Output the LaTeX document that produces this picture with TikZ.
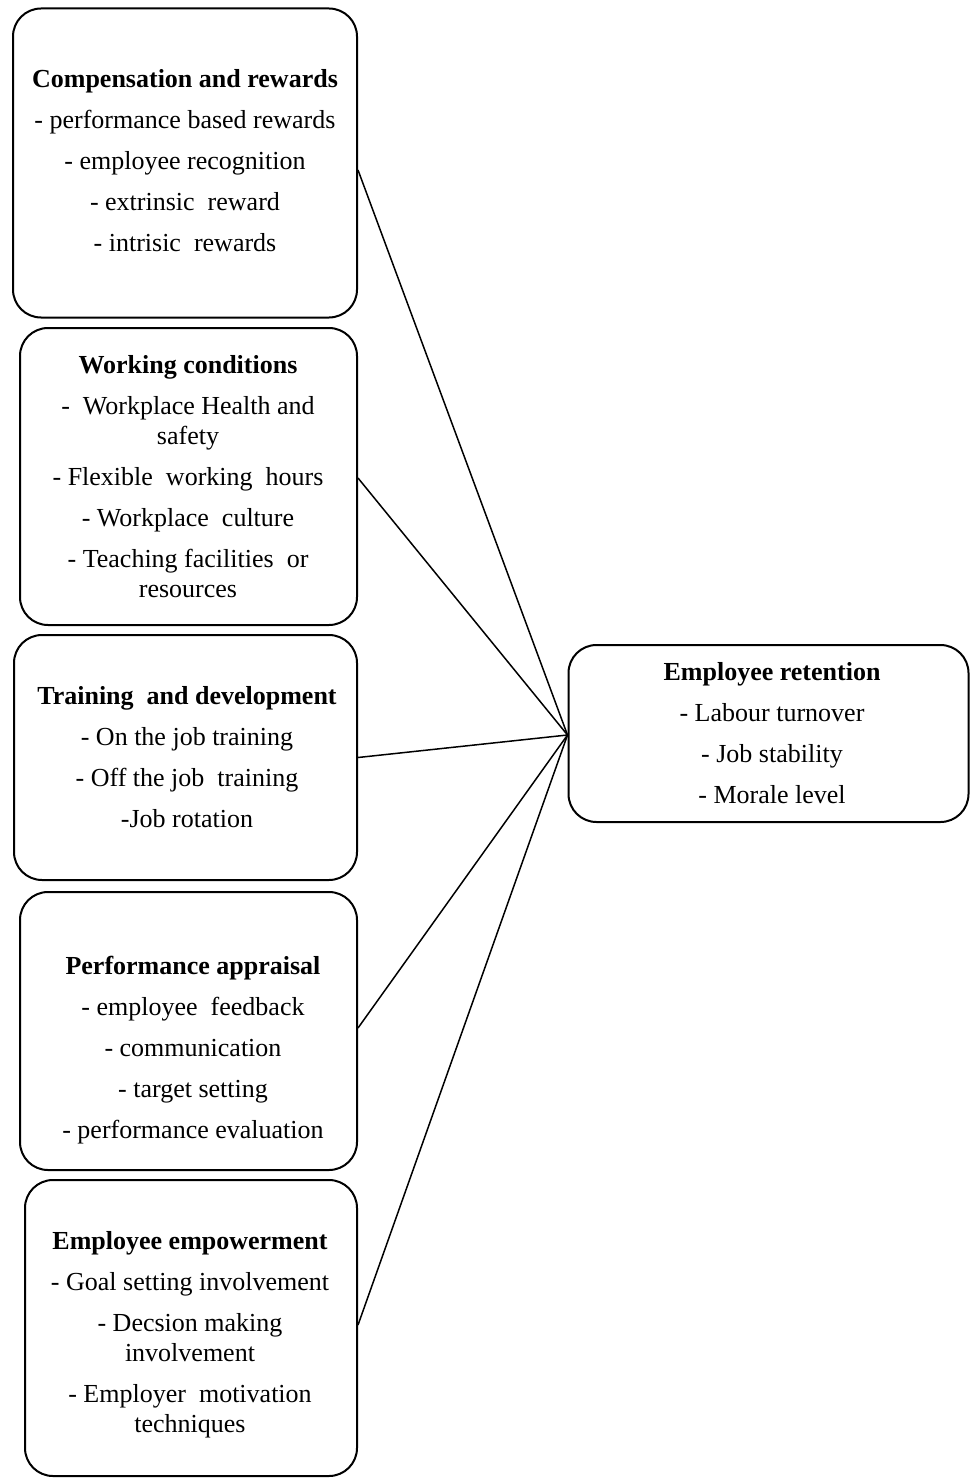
\documentclass[tikz,border=0pt]{standalone}
\usepackage{fontspec}
\setmainfont{Liberation Serif}
\begin{document}
\begin{tikzpicture}[x=1pt,y=-1pt,
  box/.style={draw, line width=2pt, rounded corners=28pt, inner sep=0pt},
  txt/.style={align=center, inner sep=0pt, font=\fontsize{26}{30}\selectfont},
  link/.style={line width=1.5pt}]
\useasboundingbox (0,0) rectangle (969,1479);
% boxes
\node[box, minimum width=344pt, minimum height=309pt] (b1) at (185,163) {};
\node[box, minimum width=337pt, minimum height=297pt] (b2) at (188.5,476.5) {};
\node[box, minimum width=343pt, minimum height=245pt] (b3) at (185.5,757.5) {};
\node[box, minimum width=337pt, minimum height=278pt] (b4) at (188.5,1031) {};
\node[box, minimum width=332pt, minimum height=296pt] (b5) at (191,1328) {};
\node[box, minimum width=400pt, minimum height=177pt] (b6) at (768.5,733.5) {};
% texts
\node[txt] (t1) at (185,160.5) {\textbf{Compensation and rewards}\\[11pt]
- performance based rewards\\[11pt]
- employee recognition\\[11pt]
- extrinsic\ \ reward\\[11pt]
- intrisic\ \ rewards};
\node[txt] (t2) at (188,476.5) {\textbf{Working conditions}\\[11pt]
-\ \ Workplace Health and\\
safety\\[11pt]
- Flexible\ \ working\ \ hours\\[11pt]
- Workplace\ \ culture\\[11pt]
- Teaching facilities\ \ or\\
resources};
\node[txt] (t3) at (187,757) {\textbf{Training\ \ and development}\\[11pt]
- On the job training\\[11pt]
- Off the job\ \ training\\[11pt]
-Job rotation};
\node[txt] (t4) at (193,1050.5) {\textbf{Performance appraisal}\\[11pt]
- employee\ \ feedback\\[11pt]
- communication\\[11pt]
- target setting\\[11pt]
- performance evaluation};
\node[txt] (t5) at (190,1334.5) {\textbf{Employee empowerment}\\[11pt]
- Goal setting involvement\\[11pt]
- Decsion making\\
involvement\\[11pt]
- Employer\ \ motivation\\
techniques};
\node[txt] (t6) at (772,733.5) {\textbf{Employee retention}\\[11pt]
- Labour turnover\\[11pt]
- Job stability\\[11pt]
- Morale level};
% connectors
\coordinate (c) at ([yshift=-1.5pt]b6.west);
\draw[link] ([yshift=-7pt]b1.east) -- (c);
\draw[link] ([yshift=-1.5pt]b2.east) -- (c);
\draw[link] (b3.east) -- (c);
\draw[link] ([yshift=3pt]b4.east) -- (c);
\draw[link] ([yshift=3pt]b5.east) -- (c);
\end{tikzpicture}
\end{document}
